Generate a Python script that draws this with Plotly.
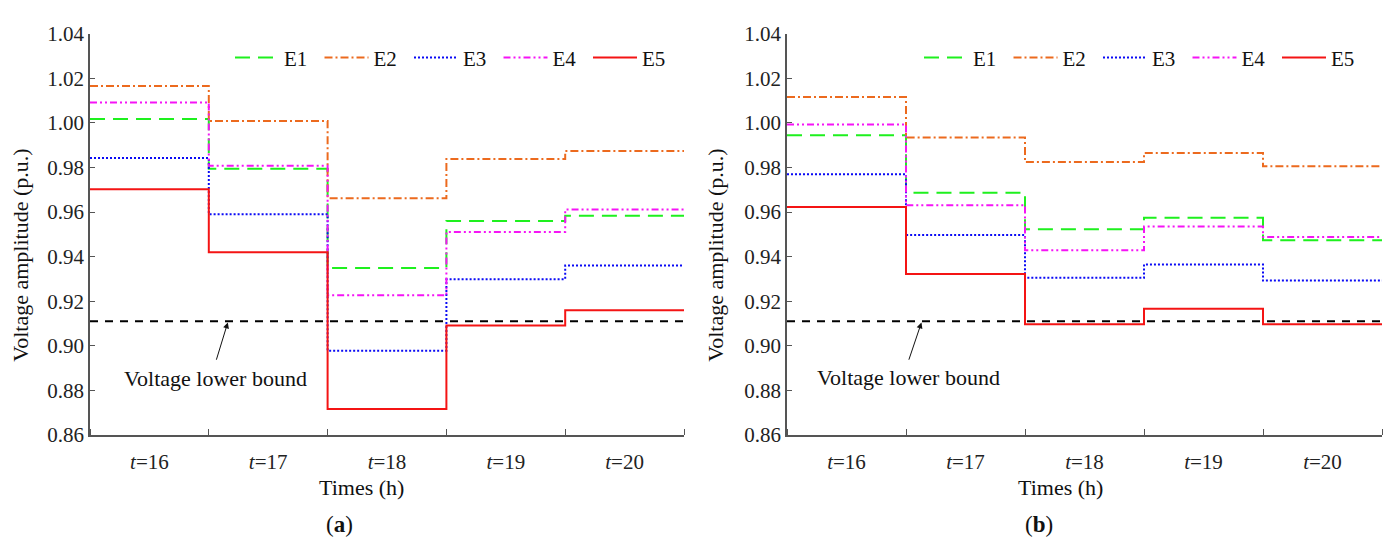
import plotly.graph_objects as go

hours = [16, 17, 18, 19, 20]
tick_labels = ["<i>t</i>=16", "<i>t</i>=17", "<i>t</i>=18", "<i>t</i>=19", "<i>t</i>=20"]
y_ticks = [0.86, 0.88, 0.90, 0.92, 0.94, 0.96, 0.98, 1.00, 1.02, 1.04]

a_E1 = [1.0017, 0.9794, 0.9349, 0.9560, 0.9583]
a_E2 = [1.0166, 1.0009, 0.9662, 0.9838, 0.9874]
a_E3 = [0.9843, 0.9590, 0.8978, 0.9299, 0.9360]
a_E4 = [1.0092, 0.9808, 0.9227, 0.9511, 0.9611]
a_E5 = [0.9702, 0.9420, 0.8717, 0.9091, 0.9160]

b_E1 = [0.9945, 0.9687, 0.9523, 0.9574, 0.9474]
b_E2 = [1.0116, 0.9935, 0.9824, 0.9865, 0.9805]
b_E3 = [0.9770, 0.9497, 0.9305, 0.9365, 0.9293]
b_E4 = [0.9993, 0.9631, 0.9429, 0.9535, 0.9488]
b_E5 = [0.9623, 0.9322, 0.9097, 0.9166, 0.9097]

lower_bound = 0.911

names = ["E1", "E2", "E3", "E4", "E5"]
styles = {
    "E1": dict(color="#1EF01E", dash="15px,8px", width=2),
    "E2": dict(color="#EC6A1E", dash="8px,3px,2px,3px", width=2),
    "E3": dict(color="#0A0AF5", dash="2px,2px", width=2),
    "E4": dict(color="#F514F5", dash="7px,3px,2px,3px,2px,3px", width=2),
    "E5": dict(color="#F41414", dash="solid", width=2),
}

FONT = "Liberation Serif"
FS = 21

xs = [h - 0.5 for h in hours] + [hours[-1] + 0.5]

fig = go.Figure()
panels = [
    ("x", "y", "legend", [a_E1, a_E2, a_E3, a_E4, a_E5]),
    ("x2", "y2", "legend2", [b_E1, b_E2, b_E3, b_E4, b_E5]),
]
for xa, ya, lg, series in panels:
    fig.add_trace(go.Scatter(
        x=[xs[0], xs[-1]], y=[lower_bound, lower_bound], mode="lines",
        line=dict(color="black", dash="8px,7px", width=2),
        showlegend=False, xaxis=xa, yaxis=ya, hoverinfo="skip"))
    for nm, vals in zip(names, series):
        fig.add_trace(go.Scatter(
            x=xs, y=vals + [vals[-1]], mode="lines", name=nm,
            line=dict(shape="hv", **styles[nm]),
            xaxis=xa, yaxis=ya, legend=lg))

W, H = 1392, 550
dom_a = [90 / W, 684 / W]
dom_b = [787 / W, 1382 / W]
ydom = [1 - 442.3 / H, 1 - 22.7 / H]

axis_common_x = dict(
    range=[xs[0], xs[-1]], tickvals=hours, ticktext=tick_labels, ticks="",
    showline=True, linecolor="#555", linewidth=1.5, showgrid=False, zeroline=False,
    tickfont=dict(family=FONT, size=FS, color="#222"), ticklabelstandoff=7,
    minor=dict(tickvals=xs, ticks="inside", ticklen=6, tickcolor="#555", tickwidth=1),
    fixedrange=True,
)
axis_common_y = dict(
    range=[0.86, 1.04], tickvals=y_ticks, tickformat=".2f", ticks="inside", ticklen=5,
    tickcolor="#555", showline=True, linecolor="#555", linewidth=1.5, showgrid=False,
    zeroline=False, tickfont=dict(family=FONT, size=FS, color="#222"), fixedrange=True,
)

legend_common = dict(
    orientation="h", yanchor="middle", xanchor="left",
    font=dict(family=FONT, size=FS, color="#111"), bgcolor="rgba(0,0,0,0)",
    itemwidth=44, entrywidthmode="pixels", entrywidth=30.5, tracegroupgap=0,
)

fig.update_layout(
    width=W, height=H, margin=dict(l=0, r=0, t=0, b=0),
    paper_bgcolor="white", plot_bgcolor="white",
    xaxis=dict(domain=dom_a, anchor="y", **axis_common_x),
    yaxis=dict(domain=ydom, anchor="x", **axis_common_y),
    xaxis2=dict(domain=dom_b, anchor="y2", **axis_common_x),
    yaxis2=dict(domain=ydom, anchor="x2", **axis_common_y),
    legend=dict(x=230 / W, y=1 - 48 / H, **legend_common),
    legend2=dict(x=919 / W, y=1 - 48 / H, **legend_common),
    showlegend=True,
)

ann = []
txt_font = dict(family=FONT, size=22, color="#111")
# lower bound labels and arrows
for xa, ya, tx, ty, hx, tailx in [("x", "y", 16.56, 0.8855, 16.66, 16.56),
                                  ("x2", "y2", 16.52, 0.8859, 16.63, 16.52)]:
    ann.append(dict(xref=xa, yref=ya, x=tx, y=ty, text="Voltage lower bound",
                    xanchor="center", yanchor="middle",
                    showarrow=False, font=txt_font))
    ann.append(dict(xref=xa, yref=ya, x=hx, y=0.9105, ax=tailx, ay=0.8931,
                    axref=xa, ayref=ya, text="", showarrow=True, arrowhead=2,
                    arrowsize=1.2, arrowwidth=1, arrowcolor="#111"))

# axis titles and panel labels
for cx, lx, yx, lab in [(361, 339, 21, "(<b>a</b>)"), (1060, 1039, 716, "(<b>b</b>)")]:
    ann.append(dict(xref="paper", yref="paper", x=cx / W, y=1 - 497 / H, text="Times (h)",
                    xanchor="center", yanchor="middle", showarrow=False, font=txt_font))
    ann.append(dict(xref="paper", yref="paper", x=lx / W, y=1 - 536 / H, text=lab,
                    xanchor="center", yanchor="middle", showarrow=False,
                    font=dict(family=FONT, size=23, color="#111")))
    ann.append(dict(xref="paper", yref="paper", x=yx / W, y=1 - 255 / H,
                    text="Voltage amplitude (p.u.)", textangle=-90,
                    xanchor="center", yanchor="middle", showarrow=False,
                    font=dict(family=FONT, size=22, color="#111")))

fig.update_layout(annotations=ann)
fig.write_html("out.html", config={"displayModeBar": False},
               post_script="document.body.style.margin='0px';document.body.style.overflow='hidden';")
